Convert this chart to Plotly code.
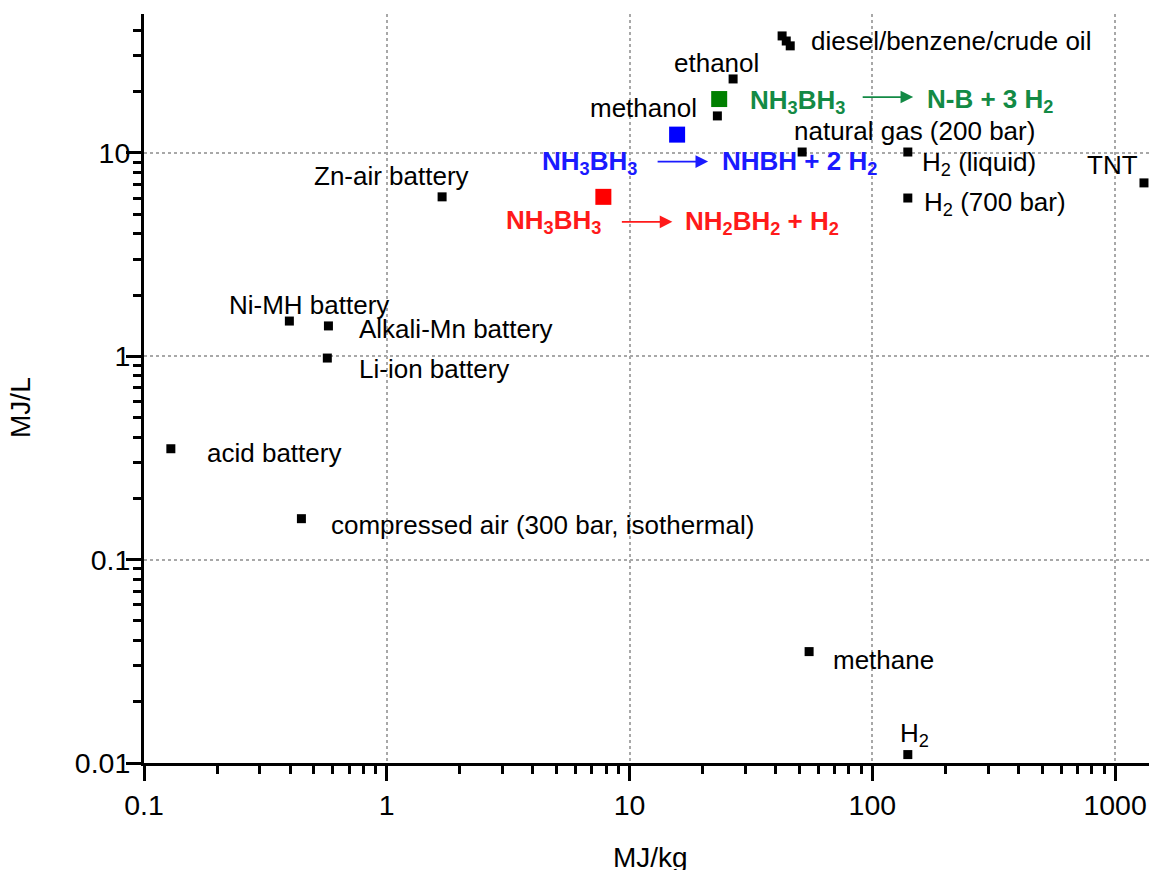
import math
import plotly.graph_objects as go

# ---------------- data ----------------
materials = ["diesel", "benzene", "crude oil", "ethanol", "methanol",
             "natural gas (200 bar)", "H2 (liquid)", "H2 (700 bar)", "TNT",
             "Zn-air battery", "Ni-MH battery", "Alkali-Mn battery",
             "Li-ion battery", "acid battery",
             "compressed air (300 bar, isothermal)", "methane", "H2"]
energy_mj_kg = [42.5, 44.2, 45.9, 26.7, 23.0, 51.4, 140.0, 140.0, 1315.0,
                1.69, 0.397, 0.575, 0.569, 0.129, 0.445, 54.9, 140.0]
energy_mj_l = [37.6, 35.5, 33.6, 23.1, 15.2, 10.1, 10.1, 6.0, 7.12,
               6.08, 1.49, 1.41, 0.98, 0.351, 0.159, 0.0353, 0.0110]

ab_steps = ["NH3BH3 -> NH2BH2 + H2", "NH3BH3 -> NHBH + 2 H2", "NH3BH3 -> N-B + 3 H2"]
ab_mj_kg = [7.8, 15.7, 23.4]
ab_mj_l = [6.08, 12.3, 18.4]

x_tickvals = [0.1, 1, 10, 100, 1000]
x_ticktext = ["0.1", "1", "10", "100", "1000"]
y_tickvals = [0.01, 0.1, 1, 10]
y_ticktext = ["0.01", "0.1", "1", "10"]

# ---------------- styles ----------------
FONT = "Liberation Sans, Arial, sans-serif"
ab_marker_colors = ["#ff0000", "#0000ff", "#008000"]
ab_text_colors = ["#ff1a1a", "#1a1aff", "#138a45"]

# label placement: (text, point index, xanchor, xshift, yshift)
point_labels = [
    ("diesel/benzene/crude oil", 2, "left", 19, 5),
    ("ethanol", 3, "center", -17, 16),
    ("methanol", 4, "right", -18, 8),
    ("natural gas (200 bar)", 5, "left", -10, 21),
    ("H<sub>2</sub> (liquid)", 6, "left", 12, -11),
    ("H<sub>2</sub> (700 bar)", 7, "left", 14, -5),
    ("TNT", 8, "right", -4, 18),
    ("Zn-air battery", 9, "center", -51, 21),
    ("Ni-MH battery", 10, "center", 20, 16),
    ("Alkali-Mn battery", 11, "left", 29, -3),
    ("Li-ion battery", 12, "left", 30, -11),
    ("acid battery", 13, "left", 34, -4),
    ("compressed air (300 bar, isothermal)", 14, "left", 28, -6),
    ("methane", 15, "left", 22, -8),
    ("H<sub>2</sub>", 16, "left", -10, 20),
]

# reaction labels: reactant shift, arrow head shift, product text, product shift
reaction_layout = [
    dict(r_anchor="right", r_shift=(0, -25), a_shift=(69, -25),
         product="NH<sub>2</sub>BH<sub>2</sub> + H<sub>2</sub>", p_shift=(80, -26)),
    dict(r_anchor="right", r_shift=(-38, -28), a_shift=(31, -27),
         product="NHBH + 2 H<sub>2</sub>", p_shift=(43, -28)),
    dict(r_anchor="left", r_shift=(29, -2), a_shift=(194, 2),
         product="N-B + 3 H<sub>2</sub>", p_shift=(206, -1)),
]

fig = go.Figure()

fig.add_trace(go.Scatter(
    x=energy_mj_kg, y=energy_mj_l, mode="markers", text=materials,
    marker=dict(symbol="square", size=9, color="black", line=dict(width=0)),
    hoverinfo="text", showlegend=False))

fig.add_trace(go.Scatter(
    x=ab_mj_kg, y=ab_mj_l, mode="markers", text=ab_steps,
    marker=dict(symbol="square", size=16, color=ab_marker_colors, line=dict(width=0)),
    hoverinfo="text", showlegend=False))

lg = math.log10  # annotations on log axes are positioned in log10 units
annotations = []
for text, idx, xa, xs, ys in point_labels:
    annotations.append(dict(
        x=lg(energy_mj_kg[idx]), y=lg(energy_mj_l[idx]), xref="x", yref="y",
        text=text, showarrow=False, xanchor=xa, yanchor="middle",
        xshift=xs, yshift=ys, font=dict(family=FONT, size=26, color="black")))

for i, lay in enumerate(reaction_layout):
    col = ab_text_colors[i]
    px, py = lg(ab_mj_kg[i]), lg(ab_mj_l[i])
    annotations.append(dict(
        x=px, y=py, xref="x", yref="y",
        text="<b>NH<sub>3</sub>BH<sub>3</sub></b>", showarrow=False,
        xanchor=lay["r_anchor"], yanchor="middle",
        xshift=lay["r_shift"][0], yshift=lay["r_shift"][1],
        font=dict(family=FONT, size=26, color=col)))
    annotations.append(dict(
        x=px, y=py, xref="x", yref="y",
        text="", showarrow=True, ax=-52, ay=0,
        arrowhead=2, arrowsize=1.4, arrowwidth=1.8, arrowcolor=col,
        xshift=lay["a_shift"][0], yshift=lay["a_shift"][1]))
    annotations.append(dict(
        x=px, y=py, xref="x", yref="y",
        text="<b>" + lay["product"] + "</b>", showarrow=False,
        xanchor="left", yanchor="middle",
        xshift=lay["p_shift"][0], yshift=lay["p_shift"][1],
        font=dict(family=FONT, size=26, color=col)))

# axis titles
annotations.append(dict(x=0.504, y=0, xref="paper", yref="paper", text="MJ/kg",
                        showarrow=False, xanchor="center", yanchor="middle",
                        yshift=-94, font=dict(family=FONT, size=28, color="black")))
annotations.append(dict(x=0, y=0.474, xref="paper", yref="paper", text="MJ/L",
                        showarrow=False, xanchor="center", yanchor="middle",
                        textangle=-90, xshift=-123,
                        font=dict(family=FONT, size=28, color="black")))

minor_vals = [k * 10.0 ** e for e in range(-2, 4) for k in range(2, 10)]

axis_common = dict(
    type="log", showline=True, linewidth=3, linecolor="black", mirror=False,
    ticks="outside", ticklen=15, tickwidth=2.5, tickcolor="black",
    showgrid=True, gridcolor="#a8a8a8", griddash="dot", gridwidth=1.5,
    zeroline=False, automargin=False,
    tickfont=dict(family=FONT, size=28.5, color="black"),
    minor=dict(ticks="outside", ticklen=8, tickwidth=2.5, tickcolor="black",
               tickvals=minor_vals, showgrid=False),
)

fig.update_layout(
    width=1149, height=870,
    margin=dict(l=144, r=0, t=14, b=107, autoexpand=False),
    paper_bgcolor="white", plot_bgcolor="white",
    xaxis=dict(range=[-1, 3.1396], tickmode="array", tickvals=x_tickvals,
               ticktext=x_ticktext, **axis_common),
    yaxis=dict(range=[-2, 1.683], tickmode="array", tickvals=y_tickvals,
               ticktext=y_ticktext, ticklabelstandoff=-10, **axis_common),
    annotations=annotations,
    showlegend=False,
)

fig.write_html("out.html",
               config={"displayModeBar": False},
               post_script="document.body.style.margin='0px';"
                           "document.body.style.overflow='hidden';")
